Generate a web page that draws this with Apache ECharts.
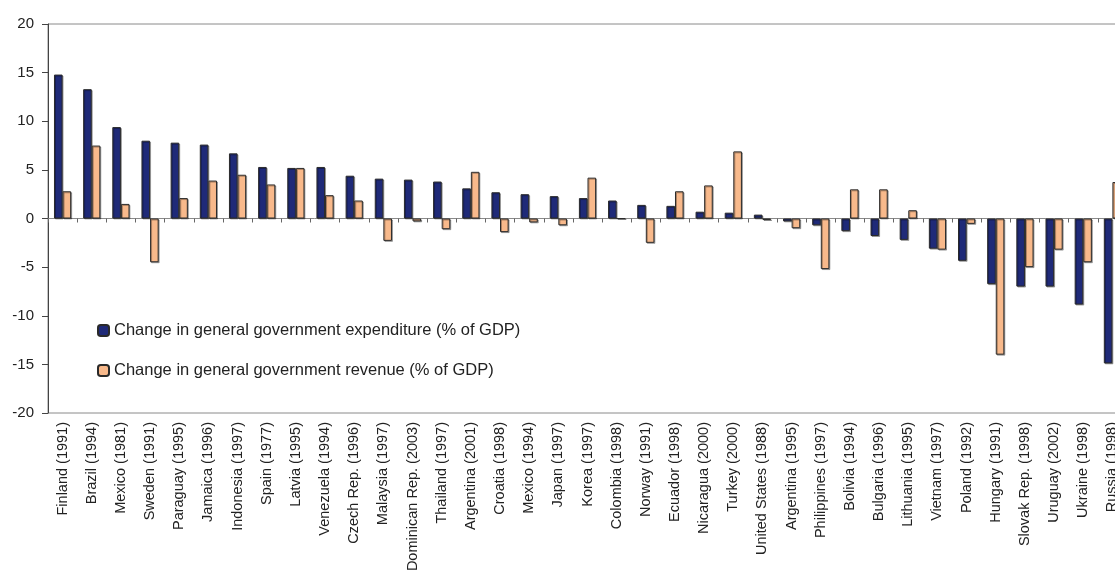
<!DOCTYPE html>
<html>
<head>
<meta charset="utf-8">
<script src="https://cdn.jsdelivr.net/npm/echarts@6/dist/echarts.min.js"></script>
<style>
html,body{margin:0;padding:0;background:#fff;}
#chart{width:1115px;height:572px;}
</style>
</head>
<body>
<div id="chart"></div>
<script>
const categories = ["Finland (1991)","Brazil (1994)","Mexico (1981)","Sweden (1991)","Paraguay (1995)","Jamaica (1996)","Indonesia (1997)","Spain (1977)","Latvia (1995)","Venezuela (1994)","Czech Rep. (1996)","Malaysia (1997)","Dominican Rep. (2003)","Thailand (1997)","Argentina (2001)","Croatia (1998)","Mexico (1994)","Japan (1997)","Korea (1997)","Colombia (1998)","Norway (1991)","Ecuador (1998)","Nicaragua (2000)","Turkey (2000)","United States (1988)","Argentina (1995)","Philippines (1997)","Bolivia (1994)","Bulgaria (1996)","Lithuania (1995)","Vietnam (1997)","Poland (1992)","Hungary (1991)","Slovak Rep. (1998)","Uruguay (2002)","Ukraine (1998)","Russia (1998)"];
const expenditure = [14.8, 13.3, 9.4, 8.0, 7.8, 7.6, 6.7, 5.3, 5.2, 5.3, 4.4, 4.1, 4.0, 3.8, 3.1, 2.7, 2.5, 2.3, 2.1, 1.85, 1.4, 1.3, 0.7, 0.6, 0.4, -0.3, -0.7, -1.3, -1.8, -2.2, -3.1, -4.35, -6.75, -7.0, -7.0, -8.85, -14.9];
const revenue = [2.8, 7.5, 1.5, -4.5, 2.1, 3.9, 4.5, 3.5, 5.2, 2.4, 1.85, -2.3, -0.3, -1.1, 4.8, -1.4, -0.4, -0.7, 4.2, 0, -2.5, 2.8, 3.4, 6.9, -0.15, -1.0, -5.2, 3.0, 3.0, 0.85, -3.2, -0.55, -14.0, -5.0, -3.2, -4.5, 3.75];
const yTicks = [-20, -15, -10, -5, 0, 5, 10, 15, 20];
const seriesNames = ["Change in general government expenditure (% of GDP)", "Change in general government revenue (% of GDP)"];

const chart = echarts.init(document.getElementById('chart'), null, {renderer: 'canvas'});
const font = 'Liberation Sans, Arial, sans-serif';
const barStyle = (c) => ({
  color: c, borderColor: '#2a2a2a', borderWidth: 1,
  shadowColor: 'rgba(0,0,0,0.3)', shadowOffsetX: 1, shadowOffsetY: 1, shadowBlur: 0
});
chart.setOption({
  animation: false,
  backgroundColor: '#fff',
  textStyle: {fontFamily: font, color: '#222'},
  grid: {left: 48, top: 24, width: 1079, height: 389, show: true, borderColor: '#8a8a8a', borderWidth: 1,
    backgroundColor: 'transparent', containLabel: false, outerBoundsMode: 'none'},
  legend: {
    orient: 'vertical', left: 92, top: 317, itemWidth: 11, itemHeight: 11, itemGap: 23, itemTextGap: 5,
    textStyle: {fontFamily: font, fontSize: 16.5, color: '#222'},
    data: seriesNames
  },
  xAxis: [{
    type: 'category', data: categories, position: 'bottom',
    axisLine: {show: false, onZero: false}, axisTick: {show: false},
    axisLabel: {rotate: 90, interval: 0, margin: 9, fontSize: 14.5, color: '#222', fontFamily: font}
  }, {
    type: 'category', data: categories, position: 'top',
    axisLine: {show: true, onZero: true, lineStyle: {color: '#8a8a8a', width: 1}},
    axisTick: {show: true, inside: true, length: 4, interval: 0, lineStyle: {color: '#666'}},
    axisLabel: {show: false}
  }],
  yAxis: {
    type: 'value', min: -20, max: 20, interval: 5,
    splitLine: {show: false},
    axisLine: {show: true, lineStyle: {color: '#444'}},
    axisTick: {show: true, length: 6, lineStyle: {color: '#444'}},
    axisLabel: {margin: 14, fontSize: 15, color: '#222', fontFamily: font,
      formatter: v => yTicks.includes(v) ? String(v) : ''}
  },
  series: [{
    name: seriesNames[0], type: 'bar', xAxisIndex: 0, data: expenditure,
    barWidth: 8.6, barGap: '0%', itemStyle: barStyle('#1f2a78')
  }, {
    name: seriesNames[1], type: 'bar', xAxisIndex: 0, data: revenue,
    barWidth: 8.6, barGap: '0%', itemStyle: barStyle('#f8b98b')
  }]
});
</script>
</body>
</html>
